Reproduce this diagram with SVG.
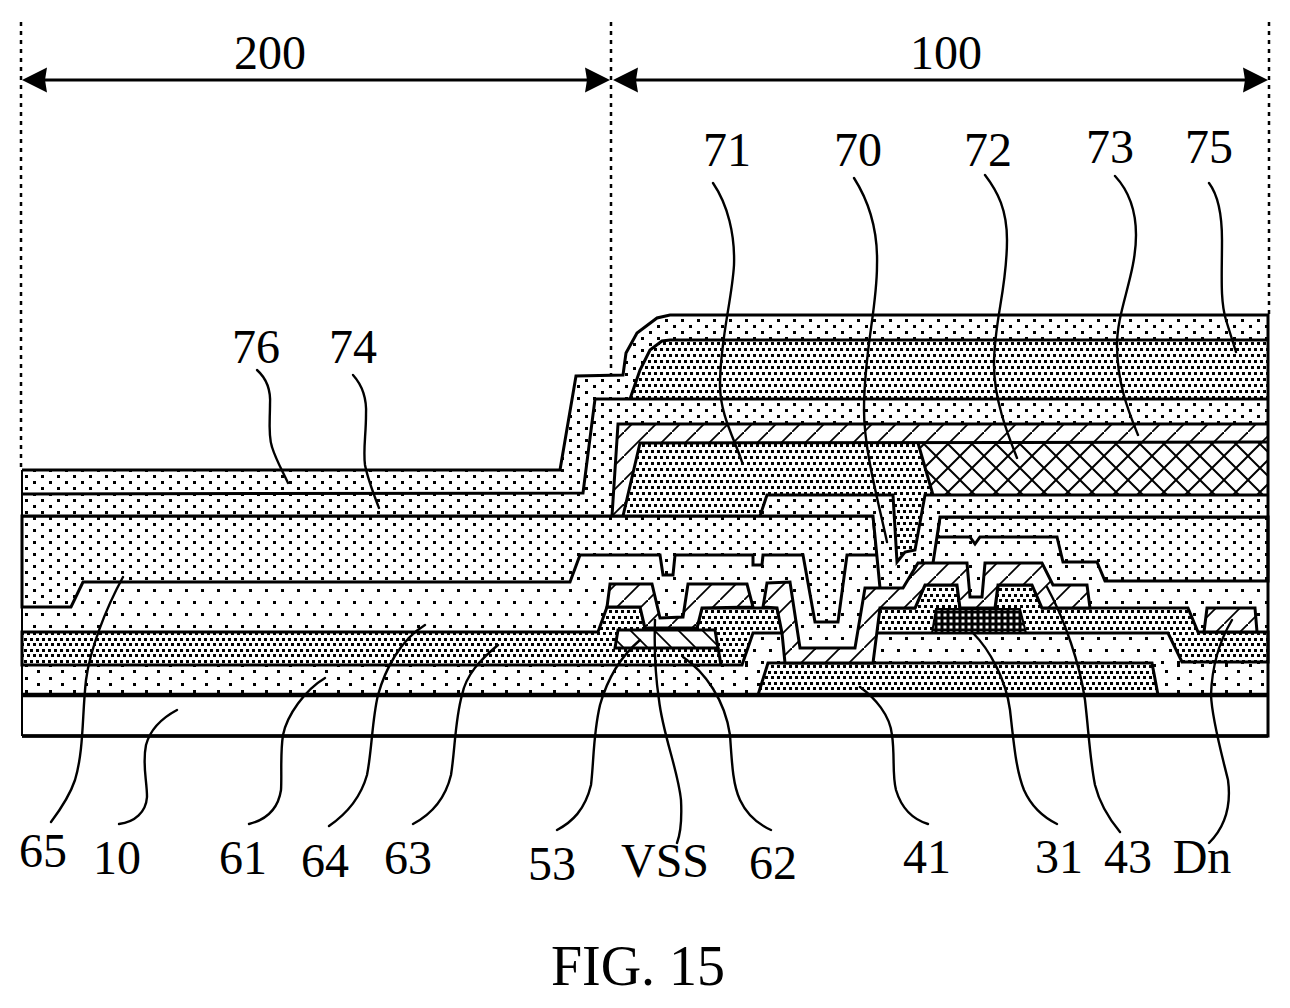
<svg xmlns="http://www.w3.org/2000/svg" width="1290" height="1008" viewBox="0 0 1290 1008">
<style>
text{font-family:"Liberation Serif","Times New Roman",serif;font-size:48px;fill:#000;text-anchor:middle}
.l{fill:none;stroke:#000;stroke-width:3;stroke-linejoin:miter}
.s{fill:none;stroke:#000;stroke-width:2.4;stroke-linecap:round}
.d{fill:none;stroke:#000;stroke-width:2.5;stroke-dasharray:4 5}
.o{stroke:#000;stroke-width:3;stroke-linejoin:miter}
</style>
<defs>
<pattern id="pa" width="16" height="12" patternUnits="userSpaceOnUse"><rect width="16" height="12" fill="#fff"/><rect x="1" y="1" width="3" height="3"/><rect x="9" y="7" width="3" height="3"/></pattern>
<pattern id="pb" width="16" height="24" patternUnits="userSpaceOnUse"><rect width="16" height="24" fill="#fff"/><rect x="1" y="1" width="3" height="3"/><rect x="9" y="13" width="3" height="3"/></pattern>
<pattern id="pc" width="24" height="13" patternUnits="userSpaceOnUse"><rect width="24" height="13" fill="#fff"/><rect x="1" y="1" width="3" height="3"/><rect x="13" y="7" width="3" height="3"/></pattern>
<pattern id="pd" width="12" height="11" patternUnits="userSpaceOnUse"><rect width="12" height="11" fill="#fff"/><rect x="0" y="0" width="3" height="3"/><rect x="6" y="0" width="3" height="3"/><rect x="3" y="5" width="3" height="3"/><rect x="9" y="5" width="3" height="3"/></pattern>
<pattern id="pe" width="12" height="12" patternUnits="userSpaceOnUse"><rect width="12" height="12" fill="#fff"/><rect x="0" y="0" width="3" height="3"/><rect x="6" y="0" width="3" height="3"/><rect x="3" y="6" width="3" height="3"/><rect x="9" y="6" width="3" height="3"/></pattern>
<pattern id="pk" width="6" height="6" patternUnits="userSpaceOnUse"><rect width="6" height="6" fill="#000"/><rect x="1.5" y="1.5" width="3" height="3" fill="#fff"/></pattern>
<pattern id="h1" width="24" height="24" patternUnits="userSpaceOnUse"><rect width="24" height="24" fill="#fff"/><path d="M-2,26L26,-2" stroke="#000" stroke-width="1.8"/></pattern>
<pattern id="h2" width="24" height="24" patternUnits="userSpaceOnUse"><rect width="24" height="24" fill="#fff"/><path d="M-2,-2L26,26" stroke="#000" stroke-width="1.8"/></pattern>
<pattern id="hx" width="24" height="24" patternUnits="userSpaceOnUse"><rect width="24" height="24" fill="#fff"/><path d="M-2,26L26,-2M-2,-2L26,26" stroke="#000" stroke-width="2"/></pattern>
<path id="ah" d="M0,0L25,-12.5L23,0L25,12.5Z" fill="#000"/>
</defs>
<rect width="1290" height="1008" fill="#fff"/>

<g id="dimensions">
<path class="d" d="M21,22V470M611,22V584M1269,22V315"/>
<path d="M30,80H600M620,80H1260" stroke="#000" stroke-width="3" fill="none"/>
<use href="#ah" x="22" y="80"/>
<use href="#ah" transform="translate(610,80) scale(-1,1)"/>
<use href="#ah" x="613" y="80"/>
<use href="#ah" transform="translate(1268,80) scale(-1,1)"/>
<text x="270" y="69">200</text>
<text x="946" y="69">100</text>
</g>

<g id="layer-10"><rect x="22" y="695" width="1246" height="41" fill="#fff"/></g>
<g id="layer-64"><rect x="22" y="516" width="1246" height="150" fill="url(#pb)"/></g>
<g id="layer-61"><rect x="22" y="664" width="1246" height="31" fill="url(#pc)"/></g>
<g id="layer-41"><polygon class="o" fill="url(#pd)" points="758,695 768,663 1152,663 1158,695"/></g>
<g id="layer-63">
<polygon class="o" fill="url(#pd)" points="22,632 598,632 607,607 640,607 645,628 697,628 702,608 777,608 782,633 753,633 742,665 22,665"/>
<polygon class="o" fill="url(#pd)" points="880,608 915,608 925,585 957,585 960,609 995,609 998,585 1032,585 1042,608 1188,608 1198,632 1268,632 1268,662 1182,662 1168,633 875,633"/>
</g>
<g id="layer-65">
<polygon class="o" fill="url(#pa)" points="22,516 873,516 877,555 847,555 838,622 815,622 803,555 763,555 762,565 753,565 753,555 675,555 673,575 663,575 660,555 580,555 570,582 83,582 71,607 22,607"/>
<polygon class="o" fill="url(#pa)" points="940,517 1268,517 1268,581 1105,581 1097,562 1063,562 1057,537 980,537 975,544 970,537 937,537"/>
</g>
<g id="layer-74-76">
<polygon fill="url(#pa)" points="22,470 560,470 576,376 623,375 626,353 637,333 657,318 670,315 1268,315 1268,340 670,340 662,341 650,350 640,370 630,399 1268,399 1268,424 618,424 612,516 22,516"/>
<polygon fill="url(#pa)" points="760,516 767,495 893,495 897,562 905,552 915,550 925,495 1268,495 1268,517 940,517 933,563 918,563 903,588 880,588 873,516"/>
</g>
<g id="layer-75"><polygon fill="url(#pe)" points="630,399 640,370 650,350 662,341 670,340 1268,340 1268,399"/></g>
<g id="layer-71"><polygon fill="url(#pe)" points="623,516 640,443 918,443 933,495 925,495 915,550 905,552 897,562 893,495 767,495 760,516"/></g>
<g id="layer-72"><polygon fill="url(#hx)" points="918,443 1268,443 1268,495 933,495"/></g>
<g id="layer-73"><polygon fill="url(#h1)" points="618,424 1268,424 1268,442 640,443 623,516 612,516"/></g>
<g id="metal-53"><polygon class="o" fill="url(#h1)" points="610,584 652,584 660,618 683,617 688,584 747,584 753,607 702,608 697,628 645,628 640,607 607,607"/></g>
<g id="metal-43"><polygon class="o" fill="url(#h1)" points="767,583 790,582 800,648 855,648 865,588 903,588 918,563 967,563 970,597 982,597 985,563 1042,563 1053,585 1087,585 1090,608 1042,608 1032,585 998,585 995,608 960,608 957,585 925,585 915,608 880,608 873,663 785,663 782,633 777,608 763,607"/></g>
<g id="metal-62"><polygon class="o" fill="url(#h2)" points="618,630 715,630 718,648 615,648"/></g>
<g id="active-31"><polygon fill="url(#pk)" stroke="#000" stroke-width="2" points="936,609 1020,609 1026,633 932,633"/></g>
<g id="metal-Dn"><polygon class="o" fill="url(#h1)" points="1207,608 1255,608 1257,632 1204,632"/></g>

<g id="outlines">
<path class="l" d="M22,470H560L576,376L623,375L626,353L637,333L657,318L670,315H1268V736H22"/>
<path class="l" d="M630,399L640,370L650,350L662,341L670,340H1268"/>
<path class="l" d="M22,494L583,493L595,399H1268"/>
<path class="l" d="M612,516L618,424H1268"/>
<path class="l" d="M623,516L640,443L1268,442"/>
<path class="l" d="M918,443L933,495"/>
<path class="l" d="M22,516H873L880,588"/>
<path class="l" d="M1268,517H940L933,563"/>
<path class="l" d="M760,516L767,495H893L897,562L905,552L915,550L925,495H1268"/>
<path class="l" d="M718,648L721,665"/>
<path d="M22,470V736" stroke="#000" stroke-width="2" fill="none"/>
<path d="M22,695H1268" stroke="#000" stroke-width="4.5" fill="none"/>
<path d="M22,736H1268" stroke="#000" stroke-width="3.5" fill="none"/>
</g>

<g id="connectors">
<path class="s" d="M123,577C105,610 90,650 86,680C82,715 84,750 75,780C70,795 60,810 51,822"/>
<path class="s" d="M177,710C162,718 150,730 146,745C142,765 147,780 147,797C146,812 135,822 119,824"/>
<path class="s" d="M325,678C305,690 287,715 283,735C280,755 282,775 281,790C278,810 265,820 249,824"/>
<path class="s" d="M425,625C400,640 385,670 378,695C372,720 372,750 367,775C360,800 345,815 329,826"/>
<path class="s" d="M498,645C480,660 466,675 462,695C455,720 455,750 451,775C445,800 430,815 413,824"/>
<path class="s" d="M640,640C620,657 607,680 600,705C593,735 594,760 591,785C585,810 572,822 557,830"/>
<path class="s" d="M655,620C654,650 656,680 659,700C663,735 678,770 681,800C682,820 680,835 677,843"/>
<path class="s" d="M683,657C705,672 725,700 730,735C732,765 733,785 740,800C747,815 760,825 771,830"/>
<path class="s" d="M860,687C875,698 890,715 892,735C895,755 892,775 896,790C902,810 915,820 928,824"/>
<path class="s" d="M973,633C990,650 1006,680 1010,710C1014,745 1016,770 1024,790C1032,808 1045,818 1057,824"/>
<path class="s" d="M1047,587C1065,620 1080,665 1085,700C1089,735 1090,760 1095,785C1100,805 1110,820 1120,832"/>
<path class="s" d="M1232,620C1220,640 1212,665 1211,695C1212,720 1222,755 1228,780C1232,810 1222,830 1209,843"/>
<path class="s" d="M713,183C728,205 735,235 734,265C732,300 720,340 720,385C720,415 735,440 742,462"/>
<path class="s" d="M854,178C868,200 878,230 877,265C877,310 864,350 864,410C864,450 878,500 887,542"/>
<path class="s" d="M985,175C998,192 1007,210 1007,240C1007,290 994,320 994,365C994,400 1008,435 1017,458"/>
<path class="s" d="M1115,176C1128,190 1136,210 1136,235C1136,275 1117,310 1117,345C1117,385 1130,415 1138,435"/>
<path class="s" d="M1209,183C1218,195 1222,215 1222,240C1222,275 1220,300 1226,320L1236,352"/>
<path class="s" d="M257,370C266,378 271,390 270,405C270,420 268,435 272,447C276,460 283,472 288,483"/>
<path class="s" d="M353,375C362,385 367,397 366,415C366,435 363,450 365,465C368,480 374,495 379,508"/>
</g>

<g id="labels">
<text x="727" y="166">71</text>
<text x="858" y="166">70</text>
<text x="988" y="166">72</text>
<text x="1110" y="163">73</text>
<text x="1209" y="163">75</text>
<text x="256" y="363">76</text>
<text x="353" y="363">74</text>
<text x="43" y="867">65</text>
<text x="117" y="874">10</text>
<text x="243" y="874">61</text>
<text x="325" y="877">64</text>
<text x="408" y="874">63</text>
<text x="552" y="880">53</text>
<text x="665" y="877">VSS</text>
<text x="773" y="879">62</text>
<text x="927" y="873">41</text>
<text x="1059" y="873">31</text>
<text x="1128" y="873">43</text>
<text x="1202" y="873">Dn</text>
<text x="638" y="985" style="font-size:56px">FIG. 15</text>
</g>
</svg>
